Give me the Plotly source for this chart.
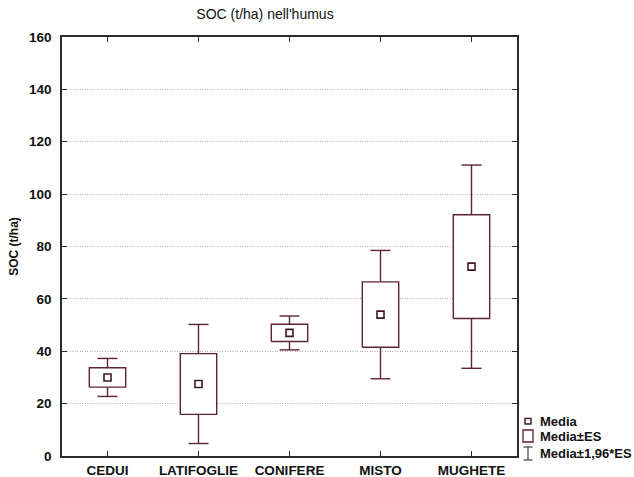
import plotly.graph_objects as go

# Soil organic carbon in the humus layer, by forest type
categories = ["CEDUI", "LATIFOGLIE", "CONIFERE", "MISTO", "MUGHETE"]
means = [30.0, 27.5, 47.0, 54.0, 72.3]      # Media (t/ha)
std_err = [3.7, 11.6, 3.3, 12.5, 19.8]       # ES (t/ha)
y_ticks = [0, 20, 40, 60, 80, 100, 120, 140, 160]

BOX_COLOR = "#5e2332"
MEAN_COLOR = "#3e1820"
FRAME_COLOR = "#2b2b2b"
BOX_HALF = 0.2      # half width of a box, in category units
CAP_HALF = 0.11     # half width of a whisker cap

xs = list(range(len(categories)))
box_lo = [m - s for m, s in zip(means, std_err)]
box_hi = [m + s for m, s in zip(means, std_err)]
wh_lo = [m - 1.96 * s for m, s in zip(means, std_err)]
wh_hi = [m + 1.96 * s for m, s in zip(means, std_err)]

fig = go.Figure()

# whiskers: Media +/- 1.96*ES, drawn from the box edges outwards, with caps
wx, wy = [], []
for x, bl, bh, wl, whi in zip(xs, box_lo, box_hi, wh_lo, wh_hi):
    wx += [x, x, None, x - CAP_HALF, x + CAP_HALF, None,
           x, x, None, x - CAP_HALF, x + CAP_HALF, None]
    wy += [bh, whi, None, whi, whi, None,
           bl, wl, None, wl, wl, None]
fig.add_trace(go.Scatter(x=wx, y=wy, mode="lines",
                         line=dict(color=BOX_COLOR, width=1.4),
                         hoverinfo="skip", showlegend=False))

# boxes: Media +/- ES, white filled
for x, bl, bh in zip(xs, box_lo, box_hi):
    fig.add_trace(go.Scatter(
        x=[x - BOX_HALF, x + BOX_HALF, x + BOX_HALF, x - BOX_HALF, x - BOX_HALF],
        y=[bl, bl, bh, bh, bl],
        mode="lines", fill="toself", fillcolor="white",
        line=dict(color=BOX_COLOR, width=1.4),
        hoverinfo="skip", showlegend=False))

# means
fig.add_trace(go.Scatter(x=xs, y=means, mode="markers",
                         marker=dict(symbol="square-open", size=7,
                                     color=MEAN_COLOR, line=dict(width=1.6)),
                         showlegend=False))

# legend drawn at the lower right, outside the frame
def px_x(px):
    return (px - 62) / 455

def px_y(py):
    return (456 - py) / 419

shapes = [
    dict(type="rect", xref="paper", yref="paper",
         x0=px_x(525), x1=px_x(531), y0=px_y(424), y1=px_y(418.5),
         line=dict(color=MEAN_COLOR, width=1.4)),
    dict(type="rect", xref="paper", yref="paper",
         x0=px_x(523), x1=px_x(533), y0=px_y(442), y1=px_y(430),
         line=dict(color=BOX_COLOR, width=1.3)),
    dict(type="line", xref="paper", yref="paper",
         x0=px_x(528), x1=px_x(528), y0=px_y(447), y1=px_y(460),
         line=dict(color="#444", width=1.2)),
    dict(type="line", xref="paper", yref="paper",
         x0=px_x(523.5), x1=px_x(532.5), y0=px_y(447), y1=px_y(447),
         line=dict(color="#444", width=1.2)),
    dict(type="line", xref="paper", yref="paper",
         x0=px_x(523.5), x1=px_x(532.5), y0=px_y(460), y1=px_y(460),
         line=dict(color="#444", width=1.2)),
]
legend_font = dict(family="Liberation Sans, Arial, sans-serif", size=13,
                   color="#111")
annotations = []
for label, py in [("<b>Media</b>", 421.5), ("<b>Media±ES</b>", 436),
                  ("<b>Media±1,96*ES</b>", 453)]:
    annotations.append(dict(text=label, xref="paper", yref="paper",
                            x=px_x(538), y=px_y(py), xanchor="left",
                            yanchor="middle", showarrow=False,
                            font=legend_font))

axis_font = dict(family="Liberation Sans, Arial, sans-serif", size=13.5,
                 color="#111", weight="bold")

fig.update_layout(
    width=634, height=477,
    margin=dict(l=62, r=117, t=37, b=21),
    paper_bgcolor="white", plot_bgcolor="white",
    title=dict(text="SOC (t/ha) nell'humus", x=265 / 634, xanchor="center",
               y=1 - 14 / 477, yanchor="middle",
               font=dict(family="Liberation Sans, Arial, sans-serif",
                         size=14, color="#111")),
    xaxis=dict(range=[-0.5, 4.5], tickmode="array", tickvals=xs,
               ticktext=categories, ticks="inside", ticklen=5,
               tickcolor=FRAME_COLOR, mirror="ticks", showline=True,
               linecolor=FRAME_COLOR, linewidth=1.5, showgrid=False,
               zeroline=False, tickfont=axis_font, fixedrange=True,
               ticklabelstandoff=1, automargin=False),
    yaxis=dict(range=[0, 160], tickmode="array", tickvals=y_ticks,
               ticks="inside", ticklen=5, tickcolor=FRAME_COLOR,
               mirror="ticks", showline=True, linecolor=FRAME_COLOR,
               linewidth=1.5, showgrid=True, gridcolor="#b4b4b4",
               griddash="1px,1.5px", gridwidth=1, zeroline=False,
               tickfont=axis_font, ticklabelstandoff=6, automargin=False,
               title=dict(text="SOC (t/ha)", standoff=8,
                          font=dict(family="Liberation Sans, Arial, sans-serif",
                                    size=12, color="#111", weight="bold")),
               fixedrange=True),
    shapes=shapes,
    annotations=annotations,
    showlegend=False,
)

fig.write_html("out.html", config={"displayModeBar": False})
